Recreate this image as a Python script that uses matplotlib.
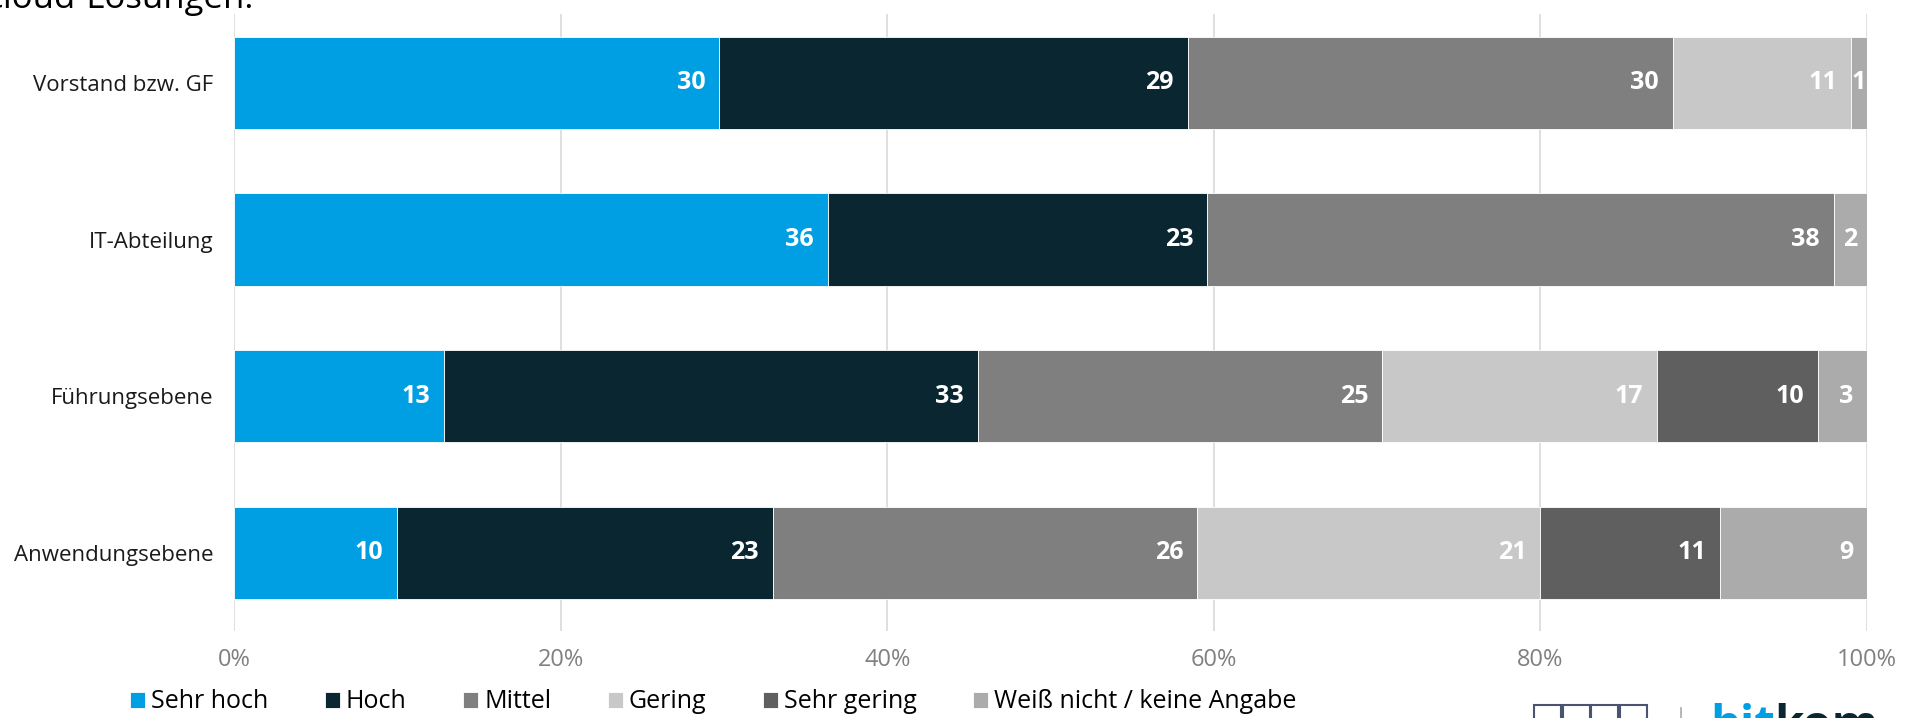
import numpy as np
import matplotlib.pyplot as plt
from matplotlib.patches import Rectangle
from matplotlib.lines import Line2D
from matplotlib.ticker import PercentFormatter

plt.rcParams['font.family'] = ['Open Sans', 'DejaVu Sans']

# Daten (Angaben in Prozent, wie im Diagramm beschriftet)
kategorien = ['Vorstand bzw. GF', 'IT-Abteilung', 'Führungsebene', 'Anwendungsebene']
reihen = ['Sehr hoch', 'Hoch', 'Mittel', 'Gering', 'Sehr gering', 'Weiß nicht / keine Angabe']
sehr_hoch = [30, 36, 13, 10]
hoch = [29, 23, 33, 23]
mittel = [30, 38, 25, 26]
gering = [11, 0, 17, 21]
sehr_gering = [0, 0, 10, 11]
weiss_nicht = [1, 2, 3, 9]
farben = ['#009FE3', '#0A2630', '#7F7F7F', '#C8C8C8', '#5F5F5F', '#ABABAB']

werte = np.array([sehr_hoch, hoch, mittel, gering, sehr_gering, weiss_nicht], dtype=float)
# 100%-gestapelt wie in Excel
anteile = werte / werte.sum(axis=0) * 100

W, H = 1909, 718
fig = plt.figure(figsize=(W / 100, H / 100), dpi=100)
ax = fig.add_axes([234 / W, 87 / H, 1633 / W, 617 / H])

y = np.arange(len(kategorien))
links = np.zeros(len(kategorien))
for i, name in enumerate(reihen):
    ax.barh(y, anteile[i], left=links, height=0.59, color=farben[i],
            edgecolor='white', linewidth=0.6, label=name, zorder=2)
    for j in range(len(kategorien)):
        if werte[i, j] == 0:
            continue
        txt = str(int(werte[i, j]))
        if anteile[i, j] < 2.5:
            ax.text(links[j] + anteile[i, j] / 2, y[j], txt, ha='center', va='center',
                    color='white', fontsize=18, fontweight='bold', zorder=3)
        else:
            ax.annotate(txt, (links[j] + anteile[i, j], y[j]), xytext=(-10, 0),
                        textcoords='offset points', ha='right', va='center',
                        color='white', fontsize=18, fontweight='bold', zorder=3)
    links += anteile[i]

ax.set_xlim(0, 100)
ax.set_ylim(3.5, -0.44)
ax.set_xticks(range(0, 101, 20))
ax.xaxis.set_major_formatter(PercentFormatter(decimals=0))
ax.set_yticks(y)
ax.set_yticklabels(kategorien)
ax.grid(axis='x', color='#D9D9D9', linewidth=1.2)
ax.set_axisbelow(True)
for s in ax.spines.values():
    s.set_visible(False)
ax.tick_params(axis='x', length=0, pad=12, labelsize=17, labelcolor='#808080')
ax.tick_params(axis='y', length=0, pad=15, labelsize=16, labelcolor='#1A1A1A')

fig.legend(loc='center left', bbox_to_anchor=(130 / W, 16 / H), ncol=6, frameon=False,
           fontsize=18, handlelength=0.6, handleheight=0.6, handletextpad=0.25,
           columnspacing=2.25, borderpad=0, borderaxespad=0)

# abgeschnittener Titel oben
fig.text(254 / W, 1 - 8 / H, 'Cloud-Lösungen.', ha='right', va='baseline',
         fontsize=25, color='#000000')

# Logo unten rechts (abgeschnitten)
for k in range(4):
    fig.add_artist(Rectangle(((1534 + k * 28.5) / W, -10 / H), 27 / W, 23 / H,
                             transform=fig.transFigure, fill=False,
                             edgecolor='#4A5470', linewidth=1.5))
fig.add_artist(Line2D([1681 / W, 1681 / W], [0, 10 / H], transform=fig.transFigure,
                      color='#AAAAAA', linewidth=1.2))
bit = fig.text(1710 / W, 1 - 703 / H, 'bit', ha='left', va='top', fontsize=34,
               fontweight='bold', color='#009FE3')
kom = fig.text(0, 0, 'kom', fontsize=34, fontweight='bold', color='#0A2630')

# 'kom' direkt hinter 'bit' setzen
r = fig.canvas.get_renderer()
bb = bit.get_window_extent(renderer=r)
kom.set_position((bb.x1 / W, bb.y0 / H))
kom.set_va('bottom')

fig.savefig('out.png', dpi=100)
